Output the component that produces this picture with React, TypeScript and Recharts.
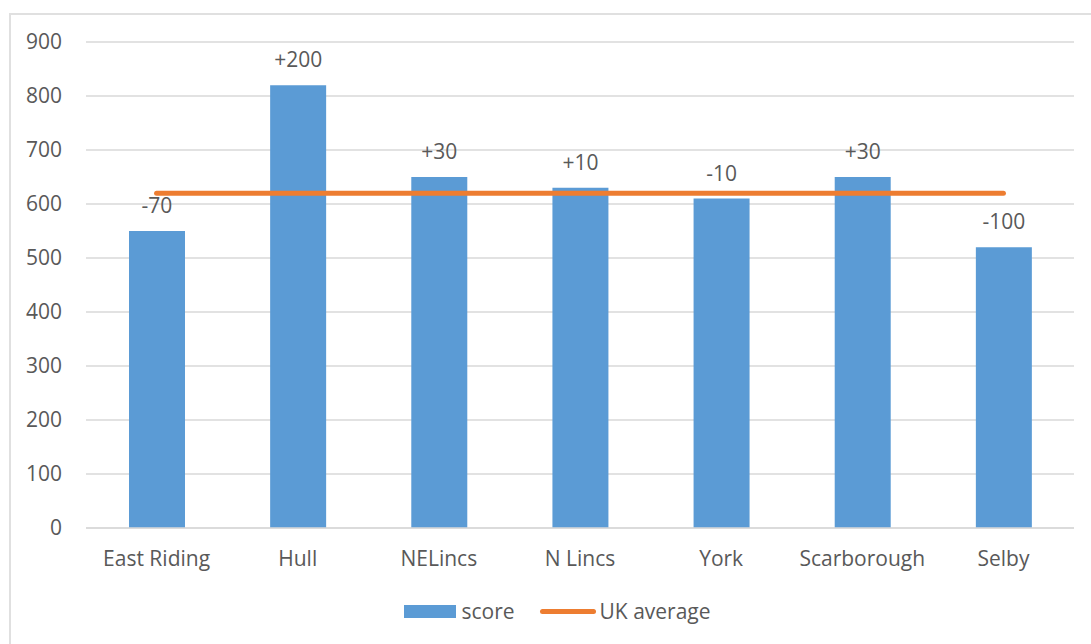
import React from 'react';
import { ComposedChart, Bar, Line, XAxis, YAxis, CartesianGrid, Legend, LabelList } from 'recharts';

const categories = ['East Riding', 'Hull', 'NELincs', 'N Lincs', 'York', 'Scarborough', 'Selby'];
const scores = [550, 820, 650, 630, 610, 650, 520];
const ukAverage = [620, 620, 620, 620, 620, 620, 620];
const diffLabels = ['-70', '+200', '+30', '+10', '-10', '+30', '-100'];
const yTicks = [0, 100, 200, 300, 400, 500, 600, 700, 800, 900];

const data = categories.map((c, i) => ({ name: c, score: scores[i], uk: ukAverage[i], diff: diffLabels[i] }));

const FONT = '"Open Sans", sans-serif';
const TEXT = '#595959';

const LegendContent = () => (
  <div style={{ display: 'flex', justifyContent: 'center', alignItems: 'center', height: 40, paddingLeft: 24, fontFamily: FONT, fontSize: 21, color: TEXT }}>
    <span style={{ display: 'inline-block', width: 52, height: 13, background: '#5b9bd5', marginRight: 5 }} />
    <span style={{ marginRight: 25 }}>score</span>
    <span style={{ display: 'inline-block', width: 56, height: 5, borderRadius: 3, background: '#ed7d31', marginRight: 4 }} />
    <span>UK average</span>
  </div>
);

export default function App() {
  return (
    <div style={{ position: 'absolute', left: 0, top: 0, width: 1091, height: 644, overflow: 'hidden', background: '#fff' }}>
      <div style={{ position: 'absolute', left: 9, top: 13, width: 1200, height: 800, border: '2px solid #e0e0e0', boxSizing: 'border-box' }} />
      <div style={{ position: 'absolute', left: 0, top: 0 }}>
        <ComposedChart width={1091} height={644} data={data} margin={{ top: 42, right: 17, left: 26, bottom: 13 }}>
          <CartesianGrid vertical={false} stroke="#d9d9d9" strokeWidth={1.5} />
          <XAxis
            dataKey="name"
            height={63}
            axisLine={{ stroke: '#d9d9d9', strokeWidth: 1.5 }}
            tickLine={false}
            tickSize={0}
            tickMargin={23}
            tick={{ fill: TEXT, fontSize: 21, fontFamily: FONT }}
          />
          <YAxis
            width={60}
            domain={[0, 900]}
            ticks={yTicks}
            axisLine={false}
            tickLine={false}
            tickSize={0}
            tickMargin={24}
            tick={{ fill: TEXT, fontSize: 21, fontFamily: FONT }}
          />
          <Legend verticalAlign="bottom" wrapperStyle={{ left: 0, width: 1091, bottom: 13 }} content={<LegendContent />} />
          <Bar dataKey="score" name="score" fill="#5b9bd5" barSize={56} isAnimationActive={false}>
            <LabelList dataKey="diff" position="top" offset={18} fill={TEXT} fontSize={21} fontFamily={FONT} />
          </Bar>
          <Line dataKey="uk" name="UK average" stroke="#ed7d31" strokeWidth={5} strokeLinecap="round" dot={false} activeDot={false} isAnimationActive={false} />
        </ComposedChart>
      </div>
    </div>
  );
}
